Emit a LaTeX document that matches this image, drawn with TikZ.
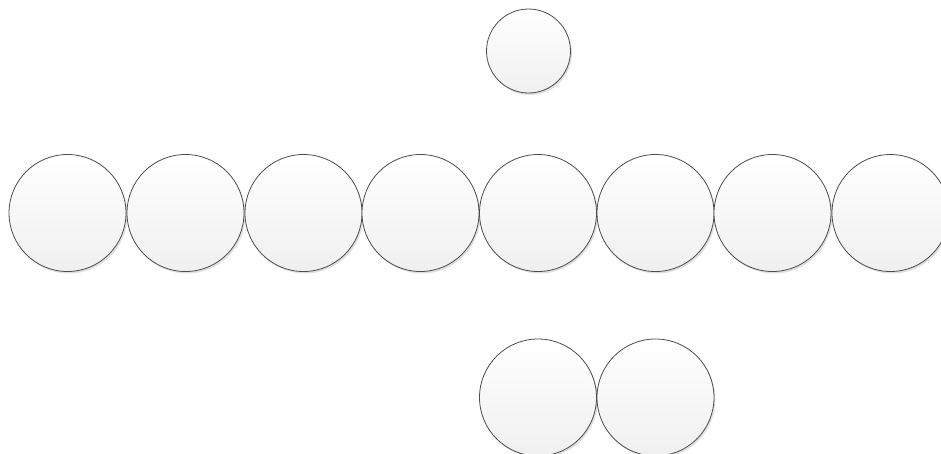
\documentclass[tikz,border=0pt]{standalone}
\usetikzlibrary{shadows}
\begin{document}
\begin{tikzpicture}[x=1pt,y=-1pt,
  ball/.style={circle,draw=black!70,line width=0.8pt,inner sep=0pt,
    top color=white,bottom color=black!6,
    drop shadow={shadow xshift=1.5pt,shadow yshift=-2pt,fill=black!12,opacity=1}},
  bigball/.style={ball,minimum size=117pt},
  smallball/.style={ball,minimum size=84pt}]
\useasboundingbox (0,0) rectangle (941,453);
\clip (0,0) rectangle (941,453);
\node[smallball] (t) at (528.5,51) {};
\foreach \x/\n in {67.5/a,185.5/b,303.5/c,420.5/d,538/e,655.5/f,772.5/g,890.5/h}
  \node[bigball] (\n) at (\x,213) {};
\node[bigball] (p) at (538,397.5) {};
\node[bigball] (q) at (655.5,397.5) {};
\end{tikzpicture}
\end{document}
